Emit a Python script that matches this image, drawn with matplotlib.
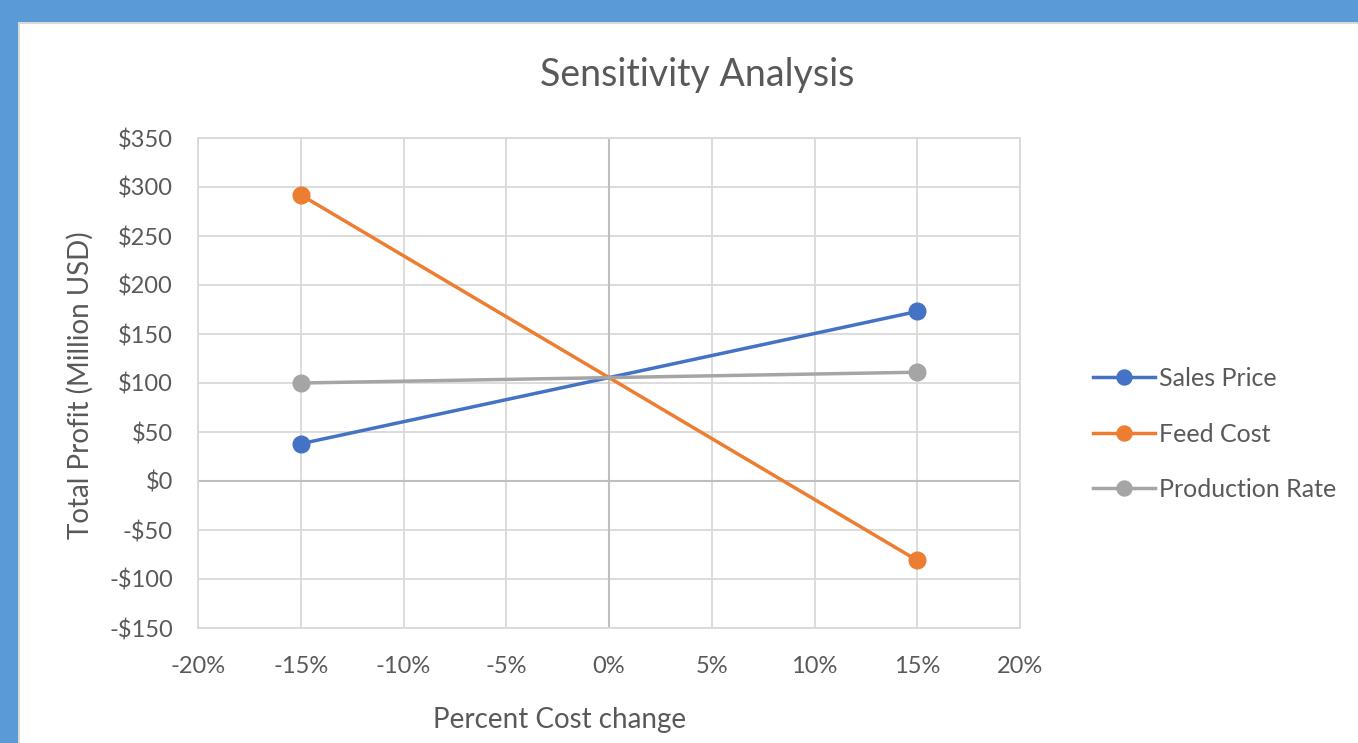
import matplotlib.pyplot as plt
from matplotlib.patches import Rectangle
from matplotlib.ticker import FuncFormatter

plt.rcParams['font.family'] = ['Lato', 'DejaVu Sans']

# percent change and total profit (million USD)
pct_change = [-15, 15]
sales_price = [38, 173]
feed_cost = [292, -81]
production_rate = [100, 111]

series = [
    ("Sales Price", sales_price, "#4472c4"),
    ("Feed Cost", feed_cost, "#ed7d31"),
    ("Production Rate", production_rate, "#a5a5a5"),
]

W, H = 1358, 743
fig = plt.figure(figsize=(W / 100, H / 100), dpi=100)
fig.patch.set_facecolor("white")
txt = "#595959"

# blue frame of the screenshot
fig.add_artist(Rectangle((0, 1 - 22 / H), 1, 22 / H, transform=fig.transFigure,
                         facecolor="#5b9bd5", edgecolor="none"))
fig.add_artist(Rectangle((0, 0), 18 / W, 1, transform=fig.transFigure,
                         facecolor="#5b9bd5", edgecolor="none"))
fig.add_artist(Rectangle((18 / W, 1 - 24 / H), 1, 2 / H, transform=fig.transFigure,
                         facecolor="#d9d9d9", edgecolor="none"))
fig.add_artist(Rectangle((18 / W, 0), 2 / W, 1 - 22 / H, transform=fig.transFigure,
                         facecolor="#d9d9d9", edgecolor="none"))

# plot area in pixels: x 198..1020, y 138..628
ax = fig.add_axes([198 / W, 1 - 628 / H, (1020 - 198) / W, (628 - 138) / H])

for name, vals, col in series:
    ax.plot(pct_change, vals, color=col, lw=2.5, marker="o", ms=12, label=name,
            zorder=3)

ax.set_xlim(-20, 20)
ax.set_ylim(-150, 350)
ax.set_xticks(range(-20, 21, 5))
ax.set_yticks(range(-150, 351, 50))
ax.xaxis.set_major_formatter(FuncFormatter(lambda v, p: f"{int(v)}%"))
ax.yaxis.set_major_formatter(
    FuncFormatter(lambda v, p: f"-${abs(int(v))}" if v < 0 else f"${int(v)}"))

ax.grid(True, color="#d9d9d9", lw=1.3)
ax.set_axisbelow(True)
ax.axhline(0, color="#bfbfbf", lw=1.5, zorder=2)
ax.axvline(0, color="#bfbfbf", lw=1.5, zorder=2)
for s in ax.spines.values():
    s.set_color("#d9d9d9")
    s.set_linewidth(1.3)
ax.tick_params(length=0, labelsize=17, labelcolor=txt)
ax.tick_params(axis="x", pad=20)
ax.tick_params(axis="y", pad=18)

fig.text(697 / W, 1 - 75 / H, "Sensitivity Analysis", fontsize=27, color=txt,
         ha="center", va="center")
fig.text(560 / W, 1 - 720 / H, "Percent Cost change", fontsize=20, color=txt,
         ha="center", va="center")
fig.text(80 / W, 1 - 385 / H, "Total Profit (Million USD)", fontsize=20, color=txt,
         ha="center", va="center", rotation=90)

handles, labels = ax.get_legend_handles_labels()
fig.legend(handles, labels, loc="center left",
           bbox_to_anchor=(1070 / W, 1 - 434 / H), frameon=False,
           fontsize=18, labelcolor=txt, handlelength=2.5,
           handletextpad=0.15, labelspacing=1.3, markerscale=0.9)

fig.savefig("out.png", dpi=100)
